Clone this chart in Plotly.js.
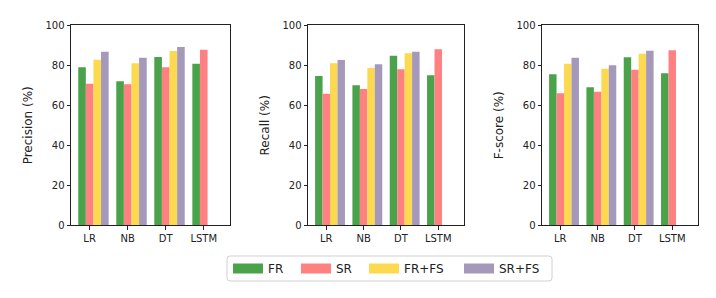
<!DOCTYPE html>
<html>
<head>
<meta charset="utf-8">
<script src="https://cdn.plot.ly/plotly-3.0.1.min.js"></script>
<style>html,body{margin:0;padding:0;background:#fff;}#chart{width:716px;height:298px;}</style>
</head>
<body>
<div id="chart"></div>
<script>
const categories = ["LR", "NB", "DT", "LSTM"];
const seriesNames = ["FR", "SR", "FR+FS", "SR+FS"];
const precisionFR   = [79.0, 72.0, 84.2, 80.8];
const precisionSR   = [70.8, 70.5, 79.0, 87.8];
const precisionFRFS = [82.8, 81.0, 87.2, null];
const precisionSRFS = [86.8, 83.8, 89.2, null];
const recallFR   = [74.6, 70.0, 84.8, 75.0];
const recallSR   = [65.8, 68.2, 78.0, 88.0];
const recallFRFS = [81.0, 78.7, 86.0, null];
const recallSRFS = [82.7, 80.5, 86.8, null];
const fscoreFR   = [75.5, 69.0, 84.0, 76.0];
const fscoreSR   = [66.0, 66.8, 77.8, 87.5];
const fscoreFRFS = [80.8, 78.3, 85.8, null];
const fscoreSRFS = [83.8, 80.0, 87.3, null];
const yTicks = [0, 20, 40, 60, 80, 100];

const colors = ["#4aa34a", "#ff8080", "#fdd94f", "#a498bb"];
const panels = [
  {title: "Precision (%)", data: [precisionFR, precisionSR, precisionFRFS, precisionSRFS]},
  {title: "Recall (%)", data: [recallFR, recallSR, recallFRFS, recallSRFS]},
  {title: "F-score (%)", data: [fscoreFR, fscoreSR, fscoreFRFS, fscoreSRFS]}
];
const W = 716, H = 298;
const xPix = [[71, 230], [308, 464], [542, 698]];
const yDom = [(H - 225.3) / H, (H - 25.3) / H];
const barW = 0.2;
const idx = categories.map((c, i) => i);

const traces = [];
const layout = {
  width: W, height: H,
  margin: {l: 0, r: 0, t: 0, b: 0},
  paper_bgcolor: "#fff", plot_bgcolor: "#fff",
  font: {family: "DejaVu Sans", size: 10, color: "#222"},
  showlegend: true,
  barmode: "overlay",
  hovermode: false,
  shapes: []
};

panels.forEach((p, pi) => {
  const xa = pi === 0 ? "x" : "x" + (pi + 1);
  const ya = pi === 0 ? "y" : "y" + (pi + 1);
  p.data.forEach((vals, k) => {
    traces.push({
      type: "bar",
      x: idx.map(i => i + k * barW),
      y: vals,
      width: barW,
      marker: {color: colors[k], line: {width: 0}},
      name: seriesNames[k],
      showlegend: false,
      xaxis: xa, yaxis: ya
    });
  });
  const axKey = pi === 0 ? "xaxis" : "xaxis" + (pi + 1);
  const ayKey = pi === 0 ? "yaxis" : "yaxis" + (pi + 1);
  layout[axKey] = {
    domain: [xPix[pi][0] / W, xPix[pi][1] / W],
    anchor: ya,
    range: [-0.29, 3.89],
    tickmode: "array",
    tickvals: idx.map(i => i + barW),
    ticktext: categories,
    ticks: "outside", ticklen: 3.5, tickwidth: 1, tickcolor: "#222",
    showline: true, linecolor: "#222", linewidth: 1, mirror: true,
    showgrid: false, zeroline: false, fixedrange: true,
    tickfont: {family: "DejaVu Sans", size: 10, color: "#222"}
  };
  layout[ayKey] = {
    domain: yDom,
    anchor: xa,
    range: [0, 100],
    tickmode: "array",
    tickvals: yTicks,
    ticks: "outside", ticklen: 3.5, tickwidth: 1, tickcolor: "#222",
    showline: true, linecolor: "#222", linewidth: 1, mirror: true,
    showgrid: false, zeroline: false, fixedrange: true,
    tickfont: {family: "DejaVu Sans", size: 10, color: "#222"},
    title: {text: p.title, font: {family: "DejaVu Sans", size: 12, color: "#222"}, standoff: 10}
  };
});

// one legend per entry, placed like the reference's legend row
const legendX = [228, 296, 364, 459];
const legendYc = (H - 268.5) / H;
seriesNames.forEach((n, k) => {
  const key = k === 0 ? "legend" : "legend" + (k + 1);
  layout[key] = {
    orientation: "h", x: legendX[k] / W, y: legendYc, xanchor: "left", yanchor: "middle",
    borderwidth: 0, bgcolor: "rgba(0,0,0,0)",
    font: {family: "DejaVu Sans", size: 12, color: "#222"},
    itemwidth: 30
  };
  traces.push({
    type: "scatter", mode: "lines",
    x: [null], y: [null],
    line: {color: colors[k], width: 10},
    name: n, showlegend: true, legend: key, xaxis: "x", yaxis: "y"
  });
});

// rounded frame round the legend row
(function () {
  const x0 = 227, x1 = 552, y0 = 256, y1 = 281, r = 3;
  const px = v => (v / W).toFixed(5);
  const py = v => ((H - v) / H).toFixed(5);
  const path = "M" + px(x0 + r) + "," + py(y0) +
    " L" + px(x1 - r) + "," + py(y0) +
    " Q" + px(x1) + "," + py(y0) + " " + px(x1) + "," + py(y0 + r) +
    " L" + px(x1) + "," + py(y1 - r) +
    " Q" + px(x1) + "," + py(y1) + " " + px(x1 - r) + "," + py(y1) +
    " L" + px(x0 + r) + "," + py(y1) +
    " Q" + px(x0) + "," + py(y1) + " " + px(x0) + "," + py(y1 - r) +
    " L" + px(x0) + "," + py(y0 + r) +
    " Q" + px(x0) + "," + py(y0) + " " + px(x0 + r) + "," + py(y0) + " Z";
  layout.shapes.push({type: "path", xref: "paper", yref: "paper", path: path,
    line: {color: "#d0d0d0", width: 1}, fillcolor: "rgba(255,255,255,0.8)", layer: "below"});
})();

Plotly.newPlot("chart", traces, layout, {staticPlot: true, displayModeBar: false});
</script>
</body>
</html>
